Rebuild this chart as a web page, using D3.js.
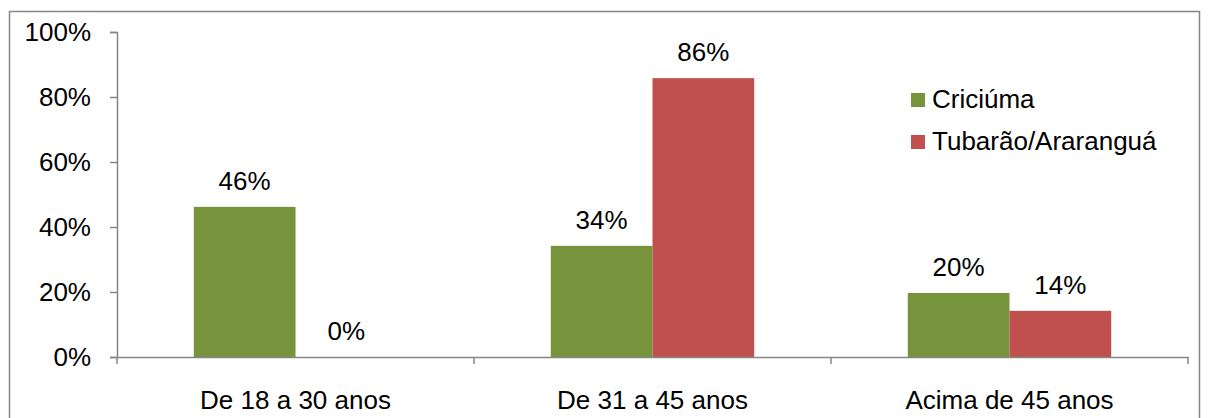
<!DOCTYPE html>
<html>
<head>
<meta charset="utf-8">
<script src="https://cdn.jsdelivr.net/npm/d3@7"></script>
<style>
  body { margin: 0; background: #fff; }
  text { font-family: Arial, "Liberation Sans", sans-serif; fill: #000; }
</style>
</head>
<body>
<svg id="chart" width="1209" height="418"></svg>
<script>
const categories = ["De 18 a 30 anos", "De 31 a 45 anos", "Acima de 45 anos"];
const seriesNames = ["Criciúma", "Tubarão/Araranguá"];
const criciuma = [0.462, 0.342, 0.197];
const tubarao = [0, 0.858, 0.142];
const yTicks = [0, 0.2, 0.4, 0.6, 0.8, 1];
const colors = ["#77933C", "#C0504D"];

const margin = { left: 117, top: 32, right: 21, bottom: 61 };
const width = 1209, height = 418;

let svg = d3.select("#chart");

// outer frame
svg.append("rect")
  .attr("x", 9.5).attr("y", 11.5)
  .attr("width", 1190).attr("height", 420)
  .attr("fill", "none").attr("stroke", "#868686").attr("stroke-width", 1.5);

let x = d3.scaleBand()
  .domain(categories)
  .range([margin.left, width - margin.right]);

let xInner = d3.scaleBand()
  .domain(seriesNames)
  .range([0, x.bandwidth()])
  .paddingOuter(0.755)
  .paddingInner(0);

let y = d3.scaleLinear()
  .domain([0, 1])
  .range([height - margin.bottom, margin.top]);

// y axis
let yAxis = svg.append("g")
  .attr("transform", `translate(${margin.left},0)`)
  .call(d3.axisLeft(y).tickValues(yTicks).tickFormat(d3.format(".0%")).tickSize(7).tickPadding(19));
yAxis.select(".domain").attr("stroke", "#868686").attr("stroke-width", 1.5);
yAxis.selectAll(".tick line").attr("stroke", "#868686").attr("stroke-width", 1.5);
yAxis.selectAll("text").style("font-size", "26px").attr("fill", "#000");

// bars
let rows = categories.map((c, i) => ({ cat: c, vals: [criciuma[i], tubarao[i]] }));

let groups = svg.selectAll(".grp")
  .data(rows)
  .enter()
  .append("g")
  .attr("class", "grp")
  .attr("transform", (d) => `translate(${x(d.cat)},0)`);

groups.selectAll("rect")
  .data((d) => d.vals.map((v, j) => ({ name: seriesNames[j], v: v, j: j })))
  .enter()
  .append("rect")
  .attr("x", (d) => xInner(d.name))
  .attr("y", (d) => y(d.v))
  .attr("width", xInner.bandwidth())
  .attr("height", (d) => y(0) - y(d.v))
  .attr("fill", (d) => colors[d.j]);

groups.selectAll(".lbl")
  .data((d) => d.vals.map((v, j) => ({ name: seriesNames[j], v: v, j: j })))
  .enter()
  .append("text")
  .attr("class", "lbl")
  .attr("x", (d) => xInner(d.name) + xInner.bandwidth() / 2)
  .attr("y", (d) => y(d.v) - 17)
  .attr("text-anchor", "middle")
  .style("font-size", "26px")
  .text((d) => d3.format(".0%")(d.v));

// x axis
let xAxis = svg.append("g")
  .attr("transform", `translate(0,${y(0)})`)
  .call(d3.axisBottom(x).tickSize(0).tickPadding(34));
xAxis.select(".domain").attr("stroke", "#868686").attr("stroke-width", 1.5);
xAxis.selectAll("text").style("font-size", "26px").attr("fill", "#000");

// category separator ticks
let bounds = categories.map((c) => x(c)).concat([x(categories[2]) + x.bandwidth()]);
svg.selectAll(".sep")
  .data(bounds)
  .enter()
  .append("line")
  .attr("x1", (d) => d).attr("x2", (d) => d)
  .attr("y1", y(0)).attr("y2", y(0) + 7)
  .attr("stroke", "#868686").attr("stroke-width", 1.5);

// legend
let legend = svg.append("g").attr("transform", "translate(911,93)");
seriesNames.forEach((n, i) => {
  legend.append("rect")
    .attr("x", 0).attr("y", i * 42)
    .attr("width", 14).attr("height", 14)
    .attr("fill", colors[i]);
  legend.append("text")
    .attr("x", 21).attr("y", i * 42 + 15)
    .style("font-size", "26px")
    .text(n);
});
</script>
</body>
</html>
